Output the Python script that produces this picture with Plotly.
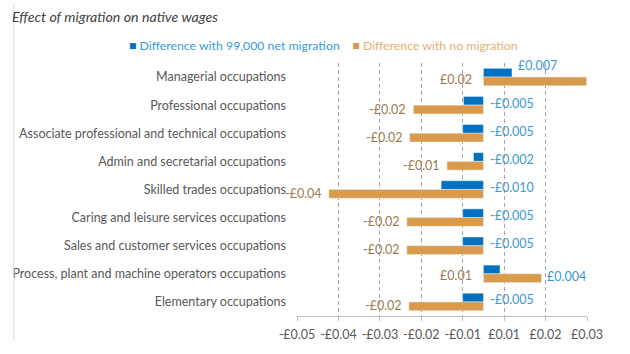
import plotly.graph_objects as go

categories = [
    "Managerial occupations",
    "Professional occupations",
    "Associate professional and technical occupations",
    "Admin and secretarial occupations",
    "Skilled trades occupations",
    "Caring and leisure services occupations",
    "Sales and customer services occupations",
    "Process, plant and machine operators occupations",
    "Elementary occupations",
]
net99k = [0.0069, -0.0048, -0.0050, -0.0024, -0.0102, -0.0050, -0.0050, 0.0040, -0.0050]
no_migration = [0.0249, -0.0169, -0.0178, -0.0088, -0.0373, -0.0185, -0.0185, 0.0140, -0.0180]
net99k_labels = ["£0.007", "-£0.005", "-£0.005", "-£0.002", "-£0.010", "-£0.005", "-£0.005", "£0.004", "-£0.005"]
nomig_labels = ["£0.02", "-£0.02", "-£0.02", "-£0.01", "-£0.04", "-£0.02", "-£0.02", "£0.01", "-£0.02"]
tick_vals = [-0.045, -0.035, -0.025, -0.015, -0.005, 0.005, 0.015, 0.025]
tick_text = ["-£0.05", "-£0.04", "-£0.03", "-£0.02", "-£0.01", "£0.01", "£0.02", "£0.03"]

BLUE = "#0070C0"
ORANGE = "#D99A4B"
BLUE_TXT = "#3A9AD9"
ORANGE_TXT = "#9C7A52"
FONT = "Lato"

fig = go.Figure()
fig.add_trace(go.Bar(y=categories, x=net99k, orientation="h", marker_color=BLUE,
                     name="Difference with 99,000 net migration", showlegend=False))
fig.add_trace(go.Bar(y=categories, x=no_migration, orientation="h", marker_color=ORANGE,
                     name="Difference with no migration", showlegend=False))

lab_font_o = dict(color=ORANGE_TXT, size=12.5, family=FONT)
lab_font_b = dict(color=BLUE_TXT, size=12.5, family=FONT)
annotations = []
for i, cat in enumerate(categories):
    o = no_migration[i]
    b = net99k[i]
    # orange labels
    if o < 0:
        annotations.append(dict(x=o, y=cat, text=nomig_labels[i], xanchor="right", xshift=-5,
                                yshift=-4, showarrow=False, font=lab_font_o))
    else:
        annotations.append(dict(x=0, y=cat, text=nomig_labels[i], xanchor="right", xshift=-9,
                                yshift=-2, showarrow=False, font=lab_font_o))
    # blue labels
    if b < 0:
        annotations.append(dict(x=0, y=cat, text=net99k_labels[i], xanchor="left", xshift=5,
                                yshift=2, showarrow=False, font=lab_font_b))
    elif o > 0 and o < 0.02:
        annotations.append(dict(x=o, y=cat, text=net99k_labels[i], xanchor="left", xshift=4,
                                yshift=-3, showarrow=False, font=lab_font_b))
    else:
        annotations.append(dict(x=b, y=cat, text=net99k_labels[i], xanchor="left", xshift=4,
                                yshift=12, showarrow=False, font=lab_font_b))

# legend as coloured text
annotations.append(dict(
    xref="paper", yref="paper", x=(318 - 291) / 296, y=1 + (63 - 45) / 265,
    xanchor="center", yanchor="middle", showarrow=False,
    text=(f"<span style='color:{BLUE}'>■</span><span style='color:{BLUE_TXT}'> Difference with 99,000 net migration</span>"
          f"    <span style='color:{ORANGE}'>■</span><span style='color:#E6AE74'> Difference with no migration</span>"),
    font=dict(size=12.3, family=FONT)))

fig.update_layout(
    width=630, height=354,
    margin=dict(l=291, r=43, t=63, b=26),
    paper_bgcolor="white", plot_bgcolor="white",
    barmode="group", bargap=0.38, bargroupgap=0.0,
    title=dict(text="<i>Effect of migration on native wages</i>", x=12 / 630, xanchor="left",
               xref="container", y=1 - 17 / 354, yanchor="middle", yref="container",
               font=dict(size=14.2, color="#404040", family=FONT)),
    font=dict(family=FONT, color="#595959", size=12.5),
    xaxis=dict(range=[-0.045, 0.025], tickvals=tick_vals, ticktext=tick_text,
               showgrid=True, gridcolor="#A6A6A6", griddash="4px,3px", gridwidth=1,
               zeroline=False, showline=True, linecolor="#BFBFBF", linewidth=1,
               ticks="outside", ticklen=4, tickcolor="#BFBFBF", ticklabelstandoff=3,
               tickfont=dict(size=12.5, color="#595959")),
    yaxis=dict(autorange="reversed", showgrid=False, zeroline=False, showline=False,
               ticklabelstandoff=10, tickfont=dict(size=12.5, color="#595959")),
    yaxis2=dict(overlaying="y", anchor="free", position=0.045 / 0.07, range=[8.5, -0.5],
                tickvals=[k - 0.5 for k in range(10)], showticklabels=False,
                showline=True, linecolor="#A6A6A6", linewidth=1, ticks="outside",
                ticklen=4, tickcolor="#BFBFBF", showgrid=False, zeroline=False, side="left"),
    annotations=annotations,
    shapes=[dict(type="line", xref="paper", yref="paper", x0=(2 - 291) / 296, x1=(2 - 291) / 296,
                 y0=-26 / 265, y1=1 + 63 / 265, line=dict(color="#D9D9D9", width=1))],
)

fig.write_html("out.html")
